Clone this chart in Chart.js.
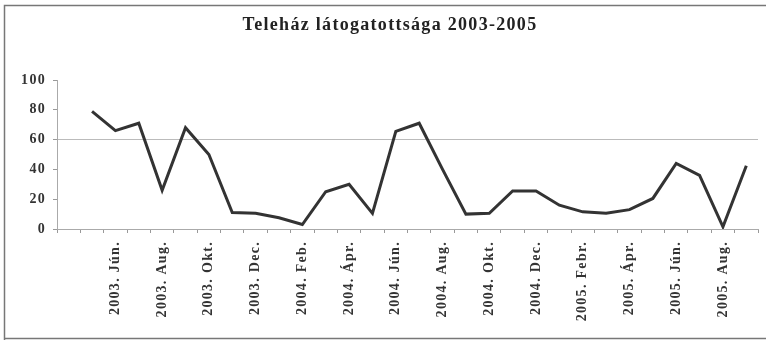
<!DOCTYPE html>
<html>
<head>
<meta charset="utf-8">
<script src="https://cdn.jsdelivr.net/npm/chart.js@4/dist/chart.umd.min.js"></script>
<style>
    html, body { margin: 0; padding: 0; background: #fff; }
    #wrap { width: 766px; height: 342px; }
</style>
</head>
<body>
<div id="wrap"><canvas id="chart" width="766" height="342"></canvas></div>
<script>
// havi adatok 2003 áprilistól 2005 szeptemberig, minden második hónap felirattal
const categories = ['', '', '2003. Jún.', '', '2003. Aug.', '', '2003. Okt.', '', '2003. Dec.', '',
    '2004. Feb.', '', '2004. Ápr.', '', '2004. Jún.', '', '2004. Aug.', '', '2004. Okt.', '',
    '2004. Dec.', '', '2005. Febr.', '', '2005. Ápr.', '', '2005. Jún.', '', '2005. Aug.', ''];

const visits = [null, 79, 66, 71, 26, 68, 50, 11, 10.5, 7.5,
    3, 25, 30, 10.5, 65.5, 71, 40, 10, 10.5, 25.5,
    25.5, 16, 11.5, 10.5, 13, 20.5, 44, 36, 1.5, 42.5];

const yTicks = [0, 20, 40, 60, 80, 100];

const serif = 'Liberation Serif, Times New Roman, serif';

// keret a diagram körül, ritkított betűköz a feliratokhoz
const frame = {
    id: 'frame',
    beforeDraw(chart) {
        const c = chart.ctx;
        c.letterSpacing = '1.3px';
        c.save();
        c.strokeStyle = '#777';
        c.lineWidth = 1.5;
        c.beginPath();
        c.moveTo(4.5, 340);
        c.lineTo(4.5, 5.5);
        c.lineTo(770, 5.5);
        c.moveTo(4.5, 338.5);
        c.lineTo(770, 338.5);
        c.stroke();
        c.restore();
    }
};

document.addEventListener('DOMContentLoaded', () => {
    const ctx = document.getElementById('chart').getContext('2d');

    new Chart(ctx, {
        type: 'line',
        data: {
            labels: categories,
            datasets: [{
                label: 'Látogatók',
                data: visits,
                borderColor: '#333',
                borderWidth: 3,
                fill: false,
                tension: 0,
                pointRadius: 0,
                spanGaps: false
            }]
        },
        options: {
            responsive: false,
            animation: false,
            layout: { padding: { top: 8, left: 14, right: 0, bottom: 0 } },
            plugins: {
                legend: { display: false },
                tooltip: { enabled: false },
                title: {
                    display: true,
                    text: 'Teleház látogatottsága 2003-2005',
                    color: '#222',
                    font: { family: serif, size: 18, weight: 'bold' },
                    padding: { top: 7, bottom: 43.4 }
                }
            },
            scales: {
                x: {
                    offset: true,
                    border: { color: '#aaa', width: 1 },
                    grid: {
                        offset: true,
                        drawOnChartArea: false,
                        drawTicks: true,
                        tickLength: 4,
                        tickColor: '#999'
                    },
                    ticks: {
                        autoSkip: false,
                        maxRotation: 90,
                        minRotation: 90,
                        padding: 8,
                        color: '#333',
                        font: { family: serif, size: 14, weight: 'bold' }
                    },
                    afterFit(scale) {
                        scale.height = 113;
                        scale.paddingLeft = 0;
                        scale.paddingRight = 8;
                    }
                },
                y: {
                    min: 0,
                    max: 100,
                    border: { color: '#aaa', width: 1 },
                    grid: {
                        color: (c) => c.tick && c.tick.value === 60 ? '#bbb' : 'rgba(0,0,0,0)',
                        tickColor: '#999',
                        tickLength: 4
                    },
                    afterBuildTicks(scale) {
                        scale.ticks = yTicks.map(v => ({ value: v }));
                    },
                    ticks: {
                        padding: 7,
                        color: '#333',
                        font: { family: serif, size: 14, weight: 'bold' }
                    },
                    afterFit(scale) { scale.width = 43; }
                }
            }
        },
        plugins: [frame]
    });
});
</script>
</body>
</html>
